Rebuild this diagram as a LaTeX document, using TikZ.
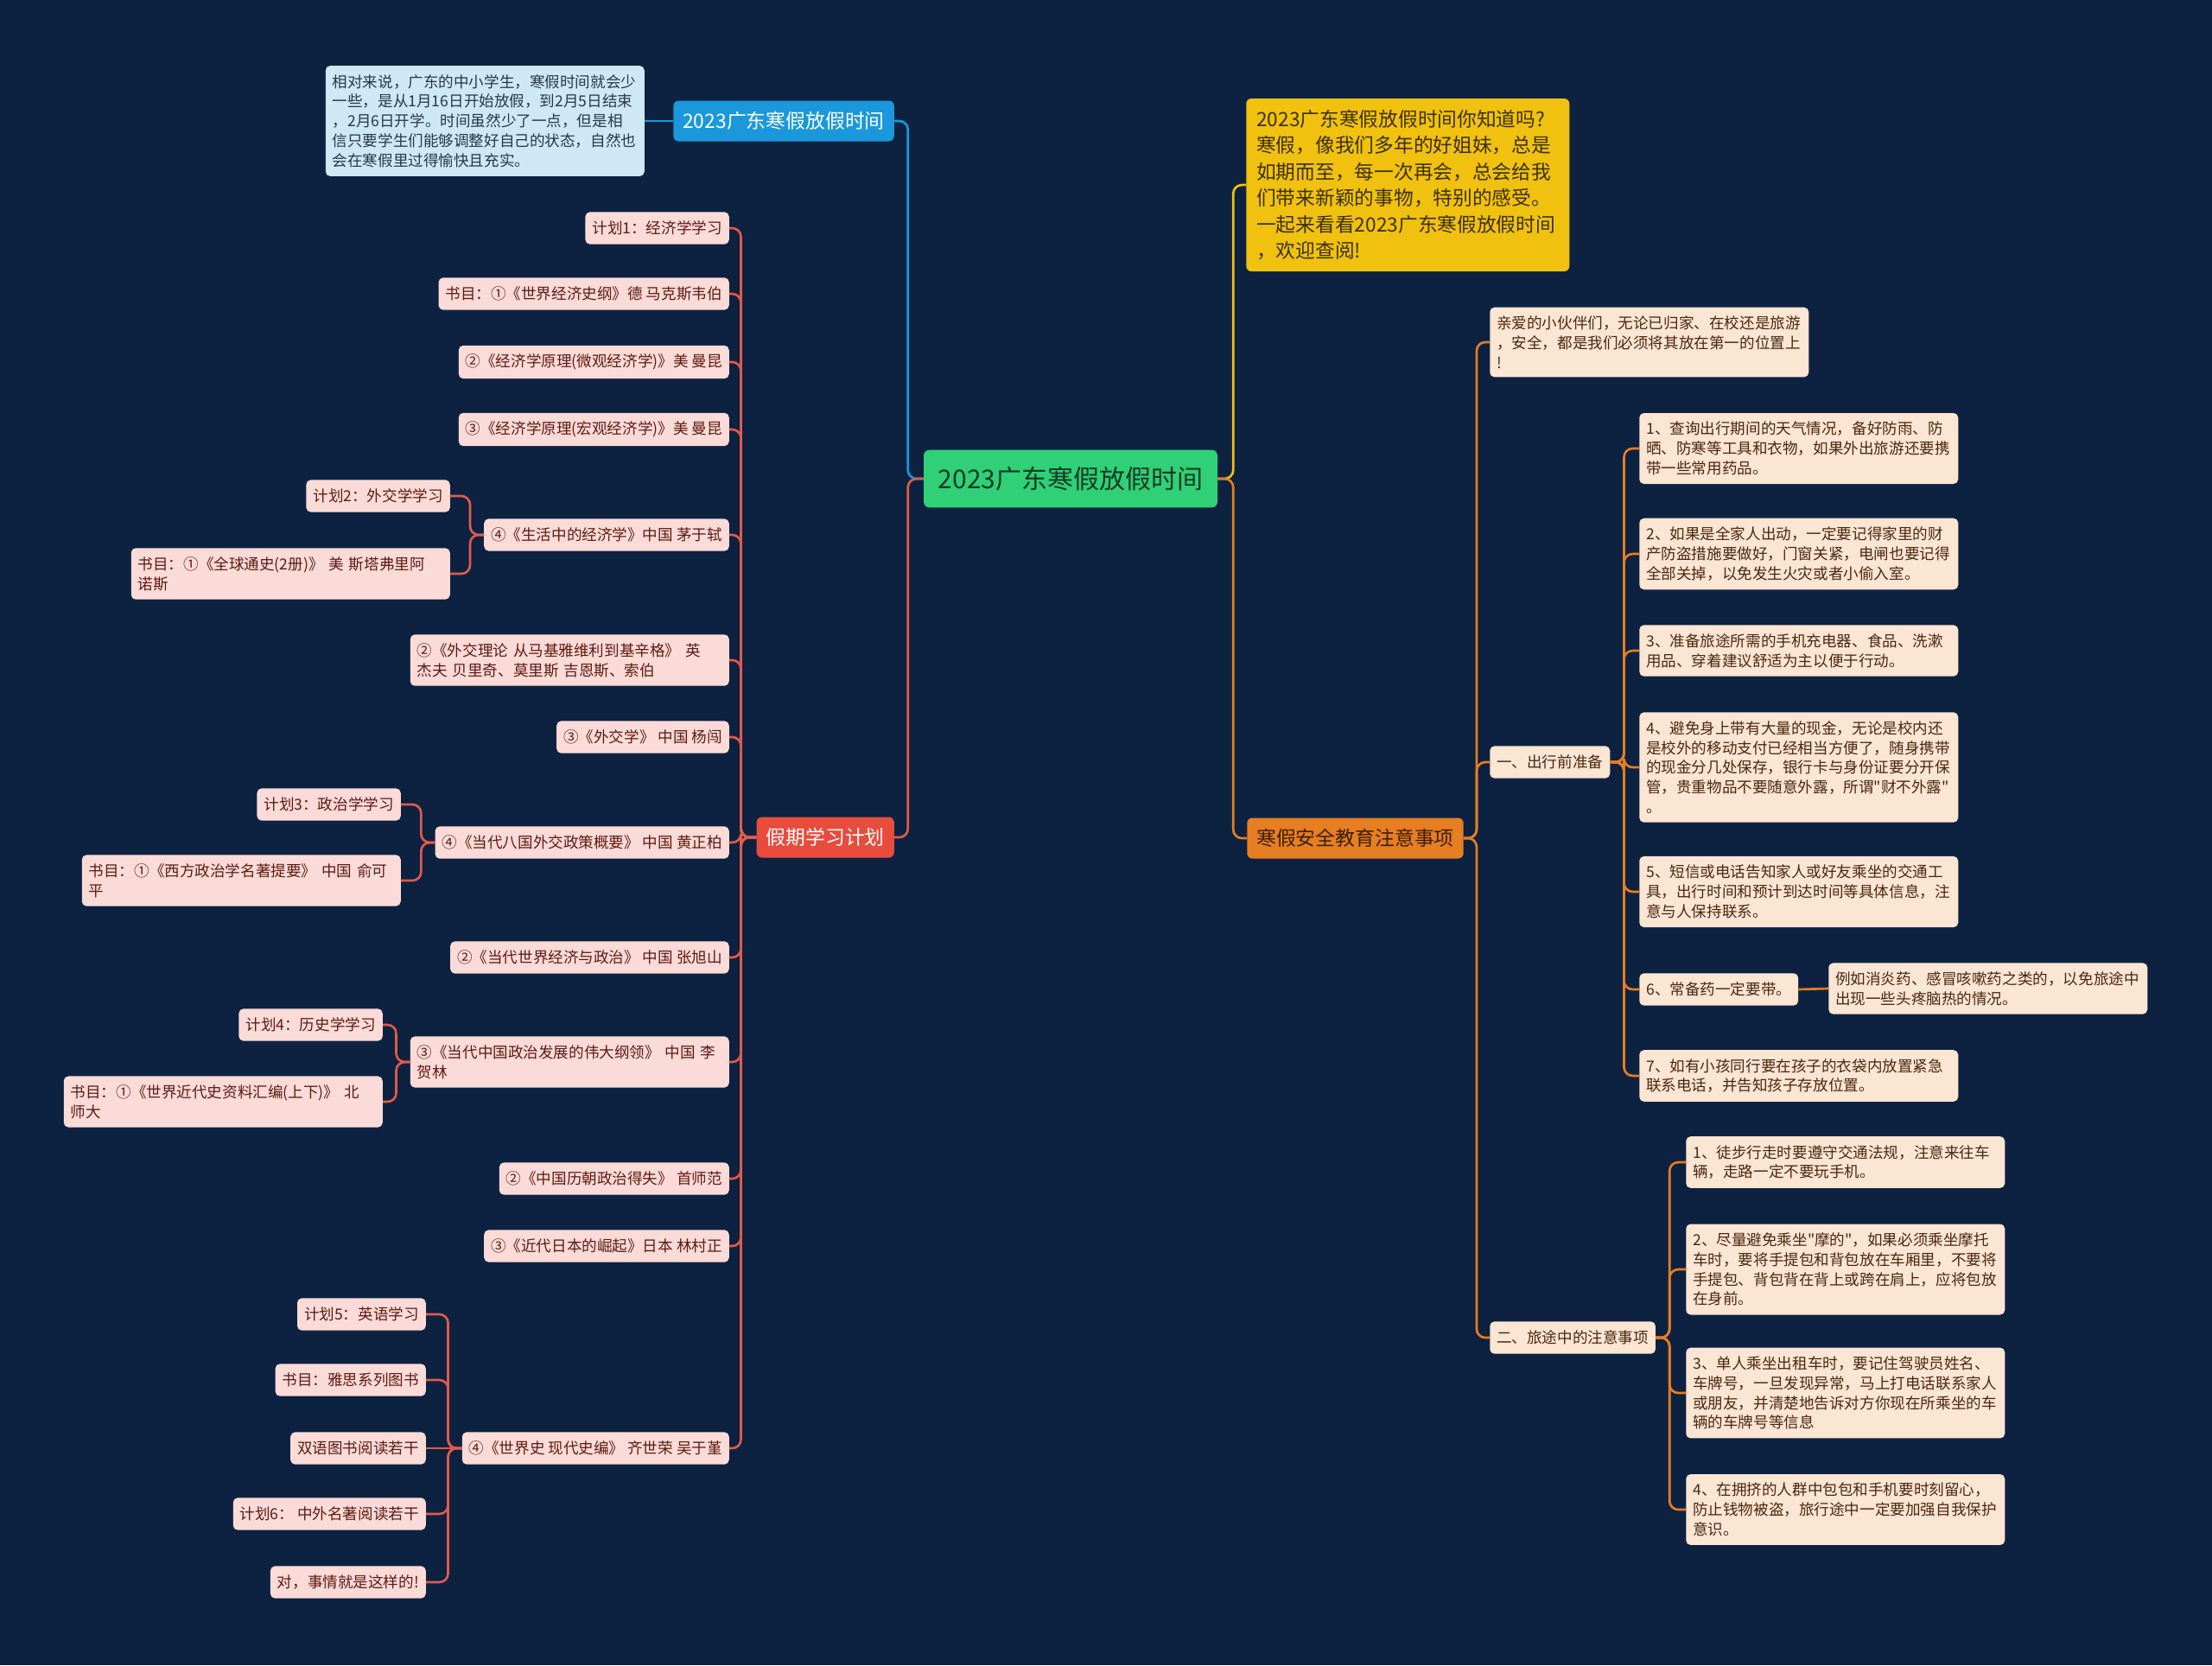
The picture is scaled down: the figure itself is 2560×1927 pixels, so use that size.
\documentclass[tikz,border=0pt]{standalone}
\usepackage{fontspec}
\newfontfamily\cjk{Noto Sans CJK SC}
\usepackage{xcolor}
\definecolor{cBg}{HTML}{0D2240}
\definecolor{cGreen}{HTML}{2FD076}
\definecolor{cGreenInk}{HTML}{163A24}
\definecolor{cBlue}{HTML}{1A98DB}
\definecolor{cBlueLight}{HTML}{CFE8F6}
\definecolor{cNoteInk}{HTML}{25384A}
\definecolor{cRed}{HTML}{E74C3C}
\definecolor{cRedLine}{HTML}{E25A4B}
\definecolor{cPink}{HTML}{FADBD8}
\definecolor{cRedInk}{HTML}{5E1A12}
\definecolor{cYellow}{HTML}{F0C20F}
\definecolor{cYellowInk}{HTML}{3D3000}
\definecolor{cOrange}{HTML}{E67E22}
\definecolor{cOrangeInk}{HTML}{3B1D00}
\definecolor{cPeach}{HTML}{FBE5D3}
\definecolor{cBrownInk}{HTML}{4A2810}
\tikzset{
  rootbox/.style={
    fill=cGreen, text=cGreenInk, rounded corners=2mm,
    minimum width=102mm, minimum height=20mm,
    font=\cjk\fontsize{25.6}{30}\selectfont,
  },
  mainbox/.style={
    fill=#1, rounded corners=1.8mm,
    minimum height=14.1mm, inner xsep=3.3mm,
    font=\cjk\fontsize{19.5}{24.3}\selectfont,
  },
  leafbox/.style={
    fill=#1, rounded corners=1.6mm,
    minimum height=11.2mm, inner xsep=2.4mm, inner ysep=3mm,
    font=\cjk\fontsize{15}{19.5}\selectfont,
  },
  redleaf/.style={leafbox=cPink, text=cRedInk},
  orgleaf/.style={leafbox=cPeach, text=cBrownInk},
  wrap/.style={text width=105.9mm, align=left},
  link/.style={draw=#1, line width=0.8mm, rounded corners=3mm},
}

\begin{document}
\begin{tikzpicture}[x=0.3mm, y=-0.3mm]

  % background
  \fill[cBg] (0,0) rectangle (2560,1927);

  % centre
  \node[rootbox] (root) at (1239,554) {2023广东寒假放假时间};

  % holiday dates
  \node[mainbox=cBlue, text=white, anchor=east] (time) at (1035,140)
    {2023广东寒假放假时间};
  \node[leafbox=cBlueLight, wrap, text=cNoteInk, anchor=east] (note) at (746,140)
    {相对来说，广东的中小学生，寒假时间就会少\\一些，是从1月16日开始放假，到2月5日结束\\，2月6日开学。时间虽然少了一点，但是相\\信只要学生们能够调整好自己的状态，自然也\\会在寒假里过得愉快且充实。};

  % study plan
  \node[mainbox=cRed, text=white, anchor=east] (plan) at (1035,969) {假期学习计划};

  \node[redleaf, anchor=east] (p1) at (844,264) {计划1：经济学学习};
  \node[redleaf, anchor=east] (p2) at (844,340) {书目：①《世界经济史纲》德 马克斯韦伯};
  \node[redleaf, anchor=east] (p3) at (844,419) {②《经济学原理(微观经济学)》美 曼昆};
  \node[redleaf, anchor=east] (p4) at (844,497) {③《经济学原理(宏观经济学)》美 曼昆};
  \node[redleaf, anchor=east] (p5) at (844,619) {④《生活中的经济学》中国 茅于轼};
  \node[redleaf, anchor=east] (p5a) at (521,574) {计划2：外交学学习};
  \node[redleaf, wrap, anchor=east] (p5b) at (521,664)
    {书目：①《全球通史(2册)》 美 斯塔弗里阿\\诺斯};
  \node[redleaf, wrap, anchor=east] (p6) at (844,764)
    {②《外交理论 从马基雅维利到基辛格》 英\\杰夫 贝里奇、莫里斯 吉恩斯、索伯};
  \node[redleaf, anchor=east] (p7) at (844,853) {③《外交学》 中国 杨闯};
  \node[redleaf, anchor=east] (p8) at (844,975) {④《当代八国外交政策概要》 中国 黄正柏};
  \node[redleaf, anchor=east] (p8a) at (464,931) {计划3：政治学学习};
  \node[redleaf, wrap, anchor=east] (p8b) at (464,1019)
    {书目：①《西方政治学名著提要》 中国 俞可\\平};
  \node[redleaf, anchor=east] (p9) at (844,1108) {②《当代世界经济与政治》 中国 张旭山};
  \node[redleaf, wrap, anchor=east] (p10) at (844,1229)
    {③《当代中国政治发展的伟大纲领》 中国 李\\贺林};
  \node[redleaf, anchor=east] (p10a) at (443,1186) {计划4：历史学学习};
  \node[redleaf, wrap, anchor=east] (p10b) at (443,1275)
    {书目：①《世界近代史资料汇编(上下)》 北\\师大};
  \node[redleaf, anchor=east] (p11) at (844,1364) {②《中国历朝政治得失》 首师范};
  \node[redleaf, anchor=east] (p12) at (844,1442) {③《近代日本的崛起》日本 林村正};
  \node[redleaf, anchor=east] (p13) at (844,1676) {④《世界史 现代史编》 齐世荣 吴于堇};
  \node[redleaf, anchor=east] (p13a) at (493,1521) {计划5：英语学习};
  \node[redleaf, anchor=east] (p13b) at (493,1597) {书目：雅思系列图书};
  \node[redleaf, anchor=east] (p13c) at (493,1676) {双语图书阅读若干};
  \node[redleaf, anchor=east] (p13d) at (493,1752) {计划6： 中外名著阅读若干};
  \node[redleaf, anchor=east] (p13e) at (493,1831) {对，事情就是这样的!};

  % intro text
  \node[fill=cYellow, text=cYellowInk, rounded corners=1.8mm, anchor=west,
        text width=105mm, align=left, inner xsep=3.6mm, inner ysep=3.9mm,
        font=\cjk\fontsize{19.4}{26}\selectfont]
    (intro) at (1442,214)
    {2023广东寒假放假时间你知道吗?\\寒假，像我们多年的好姐妹，总是\\如期而至，每一次再会，总会给我\\们带来新颖的事物，特别的感受。\\一起来看看2023广东寒假放假时间\\，欢迎查阅!};

  % safety notes
  \node[mainbox=cOrange, text=cOrangeInk, anchor=west] (safe) at (1443,970)
    {寒假安全教育注意事项};

  \node[orgleaf, wrap, anchor=west] (s0) at (1724,396)
    {亲爱的小伙伴们，无论已归家、在校还是旅游\\，安全，都是我们必须将其放在第一的位置上\\!};
  \node[orgleaf, anchor=west] (prep) at (1724,882) {一、出行前准备};
  \node[orgleaf, anchor=west] (trip) at (1724,1548) {二、旅途中的注意事项};

  \node[orgleaf, wrap, anchor=west] (a1) at (1897,519)
    {1、查询出行期间的天气情况，备好防雨、防\\晒、防寒等工具和衣物，如果外出旅游还要携\\带一些常用药品。};
  \node[orgleaf, wrap, anchor=west] (a2) at (1897,641)
    {2、如果是全家人出动，一定要记得家里的财\\产防盗措施要做好，门窗关紧，电闸也要记得\\全部关掉，以免发生火灾或者小偷入室。};
  \node[orgleaf, wrap, anchor=west] (a3) at (1897,753)
    {3、准备旅途所需的手机充电器、食品、洗漱\\用品、穿着建议舒适为主以便于行动。};
  \node[orgleaf, wrap, anchor=west] (a4) at (1897,888)
    {4、避免身上带有大量的现金，无论是校内还\\是校外的移动支付已经相当方便了，随身携带\\的现金分几处保存，银行卡与身份证要分开保\\管，贵重物品不要随意外露，所谓"财不外露"\\。};
  \node[orgleaf, wrap, anchor=west] (a5) at (1897,1032)
    {5、短信或电话告知家人或好友乘坐的交通工\\具，出行时间和预计到达时间等具体信息，注\\意与人保持联系。};
  \node[orgleaf, anchor=west] (a6) at (1897,1145) {6、常备药一定要带。};
  \node[orgleaf, wrap, anchor=west] (a6c) at (2116,1144)
    {例如消炎药、感冒咳嗽药之类的，以免旅途中\\出现一些头疼脑热的情况。};
  \node[orgleaf, wrap, anchor=west] (a7) at (1897,1245)
    {7、如有小孩同行要在孩子的衣袋内放置紧急\\联系电话，并告知孩子存放位置。};

  \node[orgleaf, wrap, anchor=west] (b1) at (1951,1345)
    {1、徒步行走时要遵守交通法规，注意来往车\\辆，走路一定不要玩手机。};
  \node[orgleaf, wrap, anchor=west] (b2) at (1951,1469)
    {2、尽量避免乘坐"摩的"，如果必须乘坐摩托\\车时，要将手提包和背包放在车厢里，不要将\\手提包、背包背在背上或跨在肩上，应将包放\\在身前。};
  \node[orgleaf, wrap, anchor=west] (b3) at (1951,1612)
    {3、单人乘坐出租车时，要记住驾驶员姓名、\\车牌号，一旦发现异常，马上打电话联系家人\\或朋友，并清楚地告诉对方你现在所乘坐的车\\辆的车牌号等信息};
  \node[orgleaf, wrap, anchor=west] (b4) at (1951,1747)
    {4、在拥挤的人群中包包和手机要时刻留心，\\防止钱物被盗，旅行途中一定要加强自我保护\\意识。};

  % main branches
  \draw[link=cBlue] (root.west) -- ++(-18,0) |- (time.east);
  \draw[link=cRedLine] (root.west) -- ++(-18,0) |- (plan.east);
  \draw[link=cYellow] (root.east) -- ++(18,0) |- (intro.west);
  \draw[link=cOrange] (root.east) -- ++(18,0) |- (safe.west);
  \draw[link=cBlue] (time.west) -- (note.east);

  % study plan links
  \draw[link=cRedLine] (plan.west) -- ++(-18,0) |- (p1.east);
  \draw[link=cRedLine] (plan.west) -- ++(-18,0) |- (p2.east);
  \draw[link=cRedLine] (plan.west) -- ++(-18,0) |- (p3.east);
  \draw[link=cRedLine] (plan.west) -- ++(-18,0) |- (p4.east);
  \draw[link=cRedLine] (plan.west) -- ++(-18,0) |- (p5.east);
  \draw[link=cRedLine] (plan.west) -- ++(-18,0) |- (p6.east);
  \draw[link=cRedLine] (plan.west) -- ++(-18,0) |- (p7.east);
  \draw[link=cRedLine] (plan.west) -- ++(-18,0) |- (p8.east);
  \draw[link=cRedLine] (plan.west) -- ++(-18,0) |- (p9.east);
  \draw[link=cRedLine] (plan.west) -- ++(-18,0) |- (p10.east);
  \draw[link=cRedLine] (plan.west) -- ++(-18,0) |- (p11.east);
  \draw[link=cRedLine] (plan.west) -- ++(-18,0) |- (p12.east);
  \draw[link=cRedLine] (plan.west) -- ++(-18,0) |- (p13.east);

  \draw[link=cRedLine] (p5.west) -- ++(-16,0) |- (p5a.east);
  \draw[link=cRedLine] (p5.west) -- ++(-16,0) |- (p5b.east);
  \draw[link=cRedLine] (p8.west) -- ++(-16,0) |- (p8a.east);
  \draw[link=cRedLine] (p8.west) -- ++(-16,0) |- (p8b.east);
  \draw[link=cRedLine] (p10.west) -- ++(-16,0) |- (p10a.east);
  \draw[link=cRedLine] (p10.west) -- ++(-16,0) |- (p10b.east);
  \draw[link=cRedLine] (p13.west) -- ++(-16,0) |- (p13a.east);
  \draw[link=cRedLine] (p13.west) -- ++(-16,0) |- (p13b.east);
  \draw[link=cRedLine] (p13.west) -- (p13c.east);
  \draw[link=cRedLine] (p13.west) -- ++(-16,0) |- (p13d.east);
  \draw[link=cRedLine] (p13.west) -- ++(-16,0) |- (p13e.east);

  % safety links
  \draw[link=cOrange] (safe.east) -- ++(15,0) |- (s0.west);
  \draw[link=cOrange] (safe.east) -- ++(15,0) |- (prep.west);
  \draw[link=cOrange] (safe.east) -- ++(15,0) |- (trip.west);

  \draw[link=cOrange] (prep.east) -- ++(16,0) |- (a1.west);
  \draw[link=cOrange] (prep.east) -- ++(16,0) |- (a2.west);
  \draw[link=cOrange] (prep.east) -- ++(16,0) |- (a3.west);
  \draw[link=cOrange] (prep.east) -- ++(16,0) |- (a4.west);
  \draw[link=cOrange] (prep.east) -- ++(16,0) |- (a5.west);
  \draw[link=cOrange] (prep.east) -- ++(16,0) |- (a6.west);
  \draw[link=cOrange] (prep.east) -- ++(16,0) |- (a7.west);
  \draw[link=cOrange] (a6.east) -- (a6c.west);

  \draw[link=cOrange] (trip.east) -- ++(16,0) |- (b1.west);
  \draw[link=cOrange] (trip.east) -- ++(16,0) |- (b2.west);
  \draw[link=cOrange] (trip.east) -- ++(16,0) |- (b3.west);
  \draw[link=cOrange] (trip.east) -- ++(16,0) |- (b4.west);

\end{tikzpicture}
\end{document}
